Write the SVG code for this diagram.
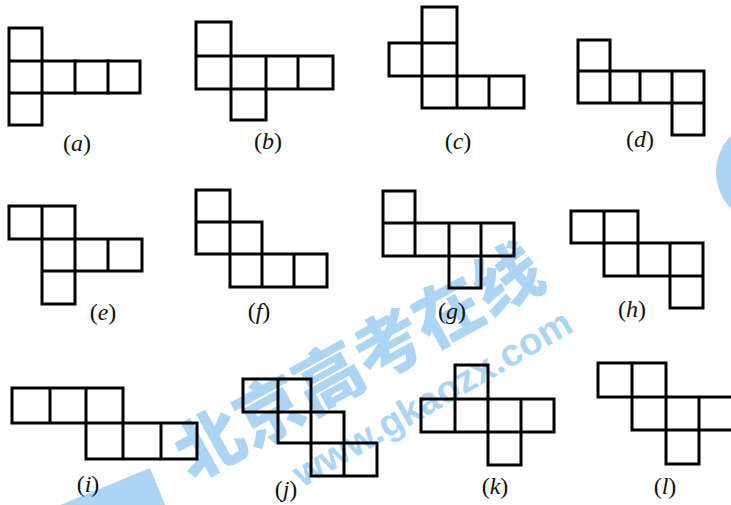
<svg xmlns="http://www.w3.org/2000/svg" width="731" height="505" viewBox="0 0 731 505">
<style>
.c{fill:none;stroke:#000;stroke-width:3;stroke-linejoin:miter;stroke-linecap:square}
.l{font-family:"Liberation Serif",serif;font-size:24px;fill:#111;text-anchor:middle}
.l tspan{font-style:italic}
.wm{fill:#acd5f3}
</style>
<rect width="731" height="505" fill="#fff"/>
<g id="watermark">
<circle class="wm" cx="768" cy="172" r="52"/>
<path class="wm" d="M60,505 L150,468 L165,505 Z"/>
<text class="wm" x="0" y="0" transform="translate(192,482) rotate(-29)" font-family="'Noto Sans CJK SC',sans-serif" font-weight="900" font-size="68">北京高考在线</text>
<text class="wm" x="0" y="0" transform="translate(302,488) rotate(-30)" font-family="'Liberation Sans',sans-serif" font-weight="700" font-size="38">www.gkaozx.com</text>
</g>
<g id="net-a">
<path class="c" d="M9,28H42V125H9ZM9,61H140V93H9"/>
<path class="c" d="M75,61V93M108,61V93"/>
<text class="l" x="77" y="151">(<tspan>a</tspan>)</text>
</g>
<g id="net-b">
<path class="c" d="M196,22H231V89H196ZM196,56H333V89H231M231,89V120H266V56M298,56V89"/>
<text class="l" x="268" y="149">(<tspan>b</tspan>)</text>
</g>
<g id="net-c">
<path class="c" d="M422,7H457V108H422ZM389,43H457M389,43V76H524V108M422,108H524M489,76V108"/>
<text class="l" x="458" y="149">(<tspan>c</tspan>)</text>
</g>
<g id="net-d">
<path class="c" d="M578,40H610V103H578ZM578,71H704V135H672V71M610,103H704M640,71V103"/>
<text class="l" x="640" y="147">(<tspan>d</tspan>)</text>
</g>
<g id="net-e">
<path class="c" d="M9,206H75V239H9ZM42,206V304H75V239M42,239H142V271H42M108,239V271"/>
<text class="l" x="103" y="320">(<tspan>e</tspan>)</text>
</g>
<g id="net-f">
<path class="c" d="M196,190H230V287H327V254H230M196,190V254H262V222H196M262,222V287M294,254V287"/>
<text class="l" x="259" y="319">(<tspan>f</tspan>)</text>
</g>
<g id="net-g">
<path class="c" d="M383,191H415V256H383ZM383,223H514V256H415M449,223V288H481V223"/>
<text class="l" x="452" y="319">(<tspan>g</tspan>)</text>
</g>
<g id="net-h">
<path class="c" d="M571,211H638V276H604V243H571ZM604,211V243H703V308H670V243M604,276H703M638,243V276"/>
<text class="l" x="632" y="317">(<tspan>h</tspan>)</text>
</g>
<g id="net-i">
<path class="c" d="M12,388H123V459H86V388M12,388V423H197V459H86M50,388V423M161,423V459"/>
<text class="l" x="88" y="492">(<tspan>i</tspan>)</text>
</g>
<g id="net-j">
<path class="c" d="M243,379H311V476H377V443H278V379M243,379V412H344V476"/>
<text class="l" x="286" y="497">(<tspan>j</tspan>)</text>
</g>
<g id="net-k">
<path class="c" d="M455,365H488V465H521V399H421V432H554V399H521M455,365V432"/>
<text class="l" x="495" y="494">(<tspan>k</tspan>)</text>
</g>
<g id="net-l">
<path class="c" d="M598,363H666V464H699V397H598V363M632,363V430H731M666,397H731"/>
<text class="l" x="665" y="494">(<tspan>l</tspan>)</text>
</g>
</svg>
